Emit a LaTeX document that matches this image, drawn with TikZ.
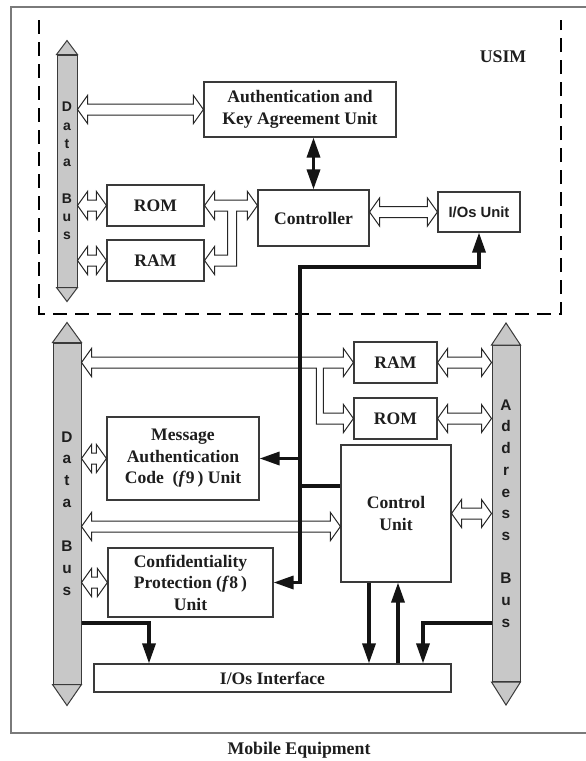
\documentclass[tikz,border=0pt]{standalone}
\usepackage{fontspec}
\setmainfont{Liberation Serif}
\newfontfamily\busfont{Liberation Sans}
\usetikzlibrary{arrows.meta,calc}
\definecolor{boxc}{HTML}{3A3A3A}
\definecolor{txt}{HTML}{1E1E1E}
\definecolor{busfill}{HTML}{C8C8C8}
\definecolor{framec}{HTML}{7A7A7A}
\def\hl{10pt}\def\hw{14pt}\def\sw{5.5pt}
% hollow double-headed block arrow between two points at the same height
\newcommand\harr[2]{\draw[hol] let \p1=(#1), \p2=(#2) in
  (\x1,\y1) -- (\x1+\hl,\y1+\hw) -- (\x1+\hl,\y1+\sw) -- (\x2-\hl,\y1+\sw) -- (\x2-\hl,\y1+\hw)
  -- (\x2,\y1) -- (\x2-\hl,\y1-\hw) -- (\x2-\hl,\y1-\sw) -- (\x1+\hl,\y1-\sw) -- (\x1+\hl,\y1-\hw) -- cycle;}
\newcommand\bustips[3]{%
  \draw[busst] (#1.north west) -- (#1.north east) -- ([yshift=#2]#1.north) -- cycle;
  \draw[busst] (#1.south west) -- (#1.south east) -- ([yshift=-#3]#1.south) -- cycle;}
\begin{document}
\begin{tikzpicture}[x=1pt,y=-1pt,
  box/.style={draw=boxc,line width=1.1pt,fill=white,inner sep=0pt,text=txt,align=center,
    font=\fontsize{17.6}{21.5}\selectfont\bfseries},
  bus/.style={draw=boxc,line width=1pt,fill=busfill,inner sep=0pt},
  busst/.style={draw=boxc,line width=1pt,fill=busfill,line join=miter},
  buslbl/.style={text=txt,align=center,inner sep=0pt},
  hol/.style={draw=black!85,line width=1pt,fill=white,line join=miter},
  blk/.style={draw=black!92,line width=3.3pt},
  blkarr/.style={-{Triangle[length=20pt,width=13pt]}},
  blkdbl/.style={{Triangle[length=20pt,width=13pt]}-{Triangle[length=20pt,width=13pt]}}]
\useasboundingbox (0,0) rectangle (586,761);
% outer frame (Mobile Equipment)
\draw[draw=framec,line width=1.5pt] (590,7) -- (11,7) -- (11,733) -- (590,733);
\node[text=txt,font=\fontsize{17.8}{20}\selectfont\bfseries] (me) at (299,750) {Mobile Equipment};
% USIM dashed region
\draw[black,line width=1.3pt,dash pattern=on 14pt off 8pt] (39,20) -- (39,314) -- (561,314) -- (561,20);
\node[text=txt,font=\fontsize{17.8}{20}\selectfont\bfseries] (usim) at (503,57) {USIM};

% ---------- USIM ----------
\node[bus,minimum width=20pt,minimum height=232pt] (dbU) at (67,171) {};
\bustips{dbU}{14pt}{14pt}
\node[buslbl,font=\busfont\bfseries\fontsize{14}{18.3}\selectfont] (dbUl) at (67,171) {D\\a\\t\\a\\~\\B\\u\\s};

\node[box,minimum width=192pt,minimum height=55pt] (auth) at (300,109.5) {Authentication and\\Key Agreement Unit};
\node[box,minimum width=97pt,minimum height=41pt] (romU) at (155.5,205.5) {ROM};
\node[box,minimum width=97pt,minimum height=41pt] (ramU) at (155.5,260.5) {RAM};
\node[box,minimum width=111pt,minimum height=56pt] (ctrl) at (313.5,218) {Controller};
\node[box,minimum width=82pt,minimum height=40pt,font=\busfont\bfseries\fontsize{14.8}{18}\selectfont] (iou) at (479,212) {I/Os Unit};

\harr{dbU.east |- auth.west}{auth.west}
\harr{dbU.east |- romU.west}{romU.west}
\harr{dbU.east |- ramU.west}{ramU.west}
\harr{ctrl.east |- iou.west}{iou.west}
% ROM <-> Controller with branch to RAM
\draw[hol] let \p1=(romU.east), \p2=(romU.east -| ctrl.west), \p3=(ramU.east) in
  (\x1,\y1) -- (\x1+\hl,\y1+\hw) -- (\x1+\hl,\y1+\sw) -- (\x2-\hl,\y1+\sw) -- (\x2-\hl,\y1+\hw)
  -- (\x2,\y1) -- (\x2-\hl,\y1-\hw) -- (\x2-\hl,\y1-\sw) -- (\x1+32pt,\y1-\sw) -- (\x1+32pt,\y3-\sw)
  -- (\x3+\hl,\y3-\sw) -- (\x3+\hl,\y3-\hw) -- (\x3,\y3) -- (\x3+\hl,\y3+\hw) -- (\x3+\hl,\y3+\sw)
  -- (\x1+23pt,\y3+\sw) -- (\x1+23pt,\y1-\sw) -- (\x1+\hl,\y1-\sw) -- (\x1+\hl,\y1-\hw) -- cycle;
\draw[blk,blkdbl] (auth.south -| ctrl.north) -- (ctrl.north);

% ---------- Mobile Equipment ----------
\node[bus,minimum width=28pt,minimum height=341pt] (dbL) at (67,513.5) {};
\bustips{dbL}{20pt}{21pt}
\node[buslbl,font=\busfont\bfseries\fontsize{15.4}{21.9}\selectfont] (dbLl) at (67,513.5) {D\\a\\t\\a\\~\\B\\u\\s};
\node[bus,minimum width=28pt,minimum height=336pt] (ab) at (506,513.5) {};
\bustips{ab}{22pt}{23pt}
\node[buslbl,font=\busfont\bfseries\fontsize{15.4}{21.7}\selectfont] (abl) at (506,513.5) {A\\d\\d\\r\\e\\s\\s\\~\\B\\u\\s};

\node[box,minimum width=83pt,minimum height=41pt] (ramM) at (395.5,362.5) {RAM};
\node[box,minimum width=83pt,minimum height=41pt] (romM) at (395.5,418.5) {ROM};
\node[box,minimum width=110pt,minimum height=137pt] (cu) at (396,513.5) {Control\\Unit};
\node[box,minimum width=152pt,minimum height=83pt] (mac) at (183,458.5) {Message\\Authentication\\Code\ \ (\textit{f}9\,) Unit};
\node[box,minimum width=165pt,minimum height=69pt] (conf) at (190.5,582.5) {Confidentiality\\Protection (\textit{f}8\,)\\Unit};
\node[box,minimum width=357pt,minimum height=28pt] (ioi) at (272.5,678) {I/Os Interface};

\coordinate (cuIn) at ([yshift=-13pt]cu.west);
\harr{dbL.east |- mac.west}{mac.west}
\harr{dbL.east |- conf.west}{conf.west}
\harr{ramM.east}{ab.west |- ramM.east}
\harr{romM.east}{ab.west |- romM.east}
\harr{cu.east}{ab.west |- cu.east}
\harr{dbL.east |- cuIn}{cuIn}
% Data bus <-> RAM with branch to ROM
\draw[hol] let \p1=(dbL.east |- ramM.west), \p2=(ramM.west), \p3=(romM.west) in
  (\x1,\y1) -- (\x1+\hl,\y1+\hw) -- (\x1+\hl,\y1+\sw) -- (\x2-\hl,\y1+\sw) -- (\x2-\hl,\y1+\hw)
  -- (\x2,\y1) -- (\x2-\hl,\y1-\hw) -- (\x2-\hl,\y1-\sw) -- (\x2-30pt,\y1-\sw) -- (\x2-30pt,\y3+\sw)
  -- (\x3-\hl,\y3+\sw) -- (\x3-\hl,\y3+\hw) -- (\x3,\y3) -- (\x3-\hl,\y3-\hw) -- (\x3-\hl,\y3-\sw)
  -- (\x2-37pt,\y3-\sw) -- (\x2-37pt,\y1-\sw) -- (\x1+\hl,\y1-\sw) -- (\x1+\hl,\y1-\hw) -- cycle;

% black control lines
\coordinate (spT) at (300,267);
\coordinate (spB) at (300,582.5);
\coordinate (spM) at (300,458.5);
\coordinate (spC) at (300,486);
\draw[blk,blkdbl] (conf.east) -- (spB) -- (spT) -| (iou.south);
\draw[blk,blkarr] (spM) -- (mac.east);
\draw[blk] (spC) -- (cu.west |- spC);

\coordinate (yJ) at (0,623);
\coordinate (xL) at (149,0);
\coordinate (xD) at (369,0);
\coordinate (xU) at (398,0);
\coordinate (xR) at (423,0);
\draw[blk,blkarr] (dbL.east |- yJ) -| (xL |- ioi.north);
\draw[blk,blkarr] (ab.west |- yJ) -| (xR |- ioi.north);
\draw[blk,blkarr] (xD |- cu.south) -- (xD |- ioi.north);
\draw[blk,blkarr] (xU |- ioi.north) -- (xU |- cu.south);
\end{tikzpicture}
\end{document}
